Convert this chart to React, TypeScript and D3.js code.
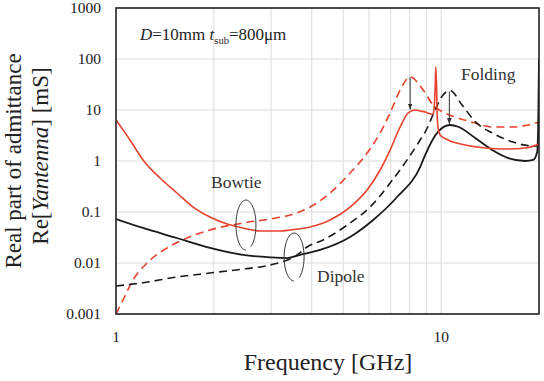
import React from 'react';
import * as d3 from 'd3';

// frequency [GHz], Re[Y] [mS]
const bowtieFolding: [number, number][] = [
  [1.0, 6.37], [1.104, 2.58], [1.211, 1.05], [1.366, 0.464], [1.54, 0.236],
  [1.726, 0.125], [1.946, 0.0798], [2.195, 0.0582], [2.459, 0.0486], [2.774, 0.0424],
  [3.196, 0.0424], [3.431, 0.0444], [3.954, 0.0508], [4.554, 0.0697], [5.248, 0.125],
  [5.92, 0.27], [6.492, 0.666], [6.967, 1.64], [7.479, 4.64], [7.915, 8.73],
  [8.318, 10], [8.619, 9.55], [8.929, 9.14], [9.316, 8.35], [9.45, 8.3],
  [9.517, 11], [9.584, 24.7], [9.63, 70], [9.69, 24], [9.72, 8],
  [9.79, 4.44], [9.93, 3.24], [10.51, 2.58], [11.85, 2.06], [13.66, 1.8],
  [15.74, 1.72], [18.14, 1.8], [20, 2.15],
];
const bowtieFlat: [number, number][] = [
  [1.0, 0.001], [1.051, 0.00188], [1.128, 0.00464], [1.246, 0.01], [1.435, 0.0197],
  [1.654, 0.0309], [1.946, 0.0444], [2.459, 0.0609], [2.978, 0.0729], [3.431, 0.0873],
  [3.954, 0.125], [4.554, 0.236], [5.248, 0.582], [5.92, 1.43], [6.492, 3.54],
  [6.967, 8.73], [7.479, 24.7], [8.027, 44.4], [8.804, 24.7], [9.45, 12.5],
  [10.29, 8.73], [11.28, 6.97], [12.73, 5.56], [14.36, 4.64], [16.54, 4.64],
  [18.52, 5.08], [20, 5.82],
];
const dipoleFolding: [number, number][] = [
  [1.0, 0.0729], [1.211, 0.0486], [1.54, 0.0309], [1.946, 0.0197], [2.459, 0.0144],
  [2.978, 0.0129], [3.359, 0.0125], [3.684, 0.0144], [4.244, 0.018], [5.248, 0.0323],
  [6.178, 0.0697], [7.319, 0.197], [8.619, 0.762], [8.929, 1.31], [9.79, 3.75],
  [10.66, 5.08], [11.28, 4.7], [12.73, 2.82], [14.36, 1.64], [16.08, 1.14],
  [18.14, 1.0], [19.19, 1.05], [19.75, 1.52], [19.89, 5.9], [20, 100],
];
const dipoleFlat: [number, number][] = [
  [1.0, 0.00354], [1.211, 0.0041], [1.54, 0.00531], [1.946, 0.00637], [2.459, 0.00762],
  [2.978, 0.00914], [3.606, 0.0144], [3.87, 0.0206], [4.335, 0.0282], [5.248, 0.0609],
  [6.047, 0.125], [6.967, 0.37], [7.859, 1.05], [8.619, 2.58], [8.929, 3.7],
  [9.584, 10], [10.04, 18.2], [10.66, 24], [11.6, 12.5], [12.73, 5.9],
  [14.36, 3.54], [16.54, 2.39], [18.52, 2.0], [20, 1.97],
];

const yTicks = [0.001, 0.01, 0.1, 1, 10, 100, 1000];
const yTickLabels = ['0.001', '0.01', '0.1', '1', '10', '100', '1000'];
const xTicks = [1, 10];
const xTickLabels = ['1', '10'];
const xGrid = [2, 3, 4, 5, 6, 7, 8, 9, 10];

const RED = '#e8412c';
const BLACK = '#1a1a1a';
const FONT = "'Liberation Serif'";

const W = 544;
const H = 381;
const left = 116;
const right = 539;
const top = 8;
const bottom = 314;

export default function App() {
  const x = d3.scaleLog().domain([1, 20]).range([left, right]);
  const y = d3.scaleLog().domain([0.001, 1000]).range([bottom, top]);

  const line = d3
    .line<[number, number]>()
    .x((d) => x(d[0]))
    .y((d) => y(d[1]))
    .curve(d3.curveMonotoneX);

  const series = [
    { data: bowtieFlat, color: RED, dash: '8,5', w: 1.6 },
    { data: dipoleFlat, color: BLACK, dash: '8,5', w: 1.6 },
    { data: dipoleFolding, color: BLACK, dash: null, w: 1.8 },
    { data: bowtieFolding, color: RED, dash: null, w: 1.6 },
  ];

  // open loop (annotation) around a pair of curves
  const loop = (cx: number, cy: number, rx: number, ry: number) => {
    const arc = d3.range(0, 331, 5).map((a) => {
      const t = ((a - 60) * Math.PI) / 180;
      return [cx + rx * Math.cos(-t), cy + ry * Math.sin(-t)] as [number, number];
    });
    return d3.line().curve(d3.curveBasis)(arc) ?? '';
  };

  const arrows = [
    { f: 8.03, from: 44, to: 10.2 },
    { f: 10.6, from: 23, to: 5.3 },
  ];

  const txt = { fontFamily: FONT };

  return (
    <svg width={W} height={H} style={{ position: 'absolute', left: 0, top: 0 }}>
      <defs>
        <clipPath id="plot">
          <rect x={left} y={top} width={right - left} height={bottom - top} />
        </clipPath>
        <marker id="head" viewBox="0 0 10 10" refX="10" refY="5" markerWidth="6" markerHeight="7" orient="auto">
          <path d="M0,1 L10,5 L0,9 z" fill="#333" />
        </marker>
      </defs>

      {/* grid */}
      {xGrid.map((g) => (
        <line key={'gx' + g} x1={x(g)} x2={x(g)} y1={top} y2={bottom} stroke="#dcdcdc" strokeWidth={1} />
      ))}
      {yTicks.map((t) => (
        <line key={'gy' + t} x1={left} x2={right} y1={y(t)} y2={y(t)} stroke="#dcdcdc" strokeWidth={1} />
      ))}

      <g clipPath="url(#plot)">
        {series.map((s, i) => (
          <path
            key={i}
            d={line(s.data) ?? ''}
            fill="none"
            stroke={s.color}
            strokeWidth={s.w}
            strokeDasharray={s.dash ?? undefined}
          />
        ))}
      </g>

      <rect x={left} y={top} width={right - left} height={bottom - top} fill="none" stroke="#222" strokeWidth={1.6} />

      {/* ticks */}
      {yTicks.map((t, i) => (
        <text key={'yl' + t} x={101} y={y(t) + 5} textAnchor="end" fontSize={15.5} fill="#222" style={txt}>
          {yTickLabels[i]}
        </text>
      ))}
      {xTicks.map((t, i) => (
        <text key={'xl' + t} x={x(t)} y={342} textAnchor="middle" fontSize={15.5} fill="#222" style={txt}>
          {xTickLabels[i]}
        </text>
      ))}

      {/* axis titles */}
      <text x={328} y={370} textAnchor="middle" fontSize={24} fill="#222" style={txt}>
        Frequency [GHz]
      </text>
      <text transform="translate(21,161) rotate(-90)" textAnchor="middle" fontSize={23} fill="#222" style={txt}>
        Real part of admittance
      </text>
      <text transform="translate(48,156) rotate(-90)" textAnchor="middle" fontSize={23} fill="#222" style={txt}>
        Re[<tspan fontStyle="italic">Yantenna</tspan>] [mS]
      </text>

      {/* annotations */}
      <text x={140} y={40} fontSize={17} fill="#222" style={txt}>
        <tspan fontStyle="italic">D</tspan>=10mm <tspan fontStyle="italic">t</tspan>
        <tspan fontSize={10.5} dy={4}>sub</tspan>
        <tspan dy={-4}>=800μm</tspan>
      </text>
      <text x={461} y={80} fontSize={17.5} fill="#333" style={txt}>Folding</text>
      <text x={211} y={188} fontSize={17.5} fill="#333" style={txt}>Bowtie</text>
      <text x={317} y={282} fontSize={17.5} fill="#333" style={txt}>Dipole</text>

      <path d={loop(x(2.51), y(0.0556), 10, 25)} fill="none" stroke="#333" strokeWidth={1} />
      <path d={loop(x(3.53), y(0.0131), 10, 24)} fill="none" stroke="#333" strokeWidth={1} />

      {arrows.map((a, i) => (
        <line
          key={'ar' + i}
          x1={x(a.f)}
          x2={x(a.f)}
          y1={y(a.from)}
          y2={y(a.to)}
          stroke="#333"
          strokeWidth={1}
          markerEnd="url(#head)"
        />
      ))}
    </svg>
  );
}
